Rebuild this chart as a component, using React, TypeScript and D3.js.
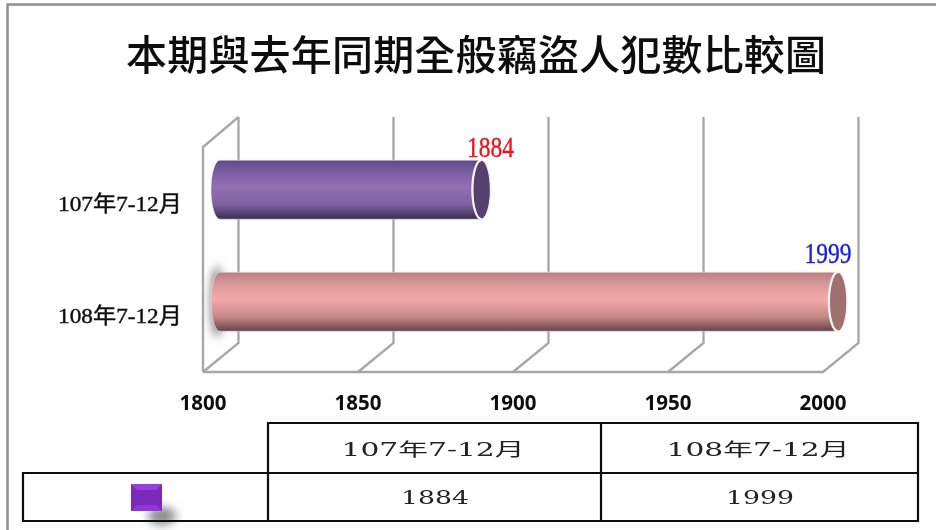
import React from "react";
import * as d3 from "d3";

const title = "本期與去年同期全般竊盜人犯數比較圖";
const categories = ["107年7-12月", "108年7-12月"];
const values = [1884, 1999];
const ticks = [1800, 1850, 1900, 1950, 2000];
const valueColors = ["#e8141c", "#1a1ae0"];
const valueLabelShift = [9, -10];
const valueLabelLift = [3, 9];
const barPalettes = [
  { stops: ["#5f4a86", "#7a5fa5", "#9270b5", "#7d62a0", "#3a2c52"], cap: "#54406f" },
  { stops: ["#b98080", "#dc9a9a", "#f5a9a9", "#c88a8a", "#664444"], cap: "#a07070" },
];

const x = d3.scaleLinear().domain([1800, 2000]).range([203, 823]);
const depthX = 35.5;
const depthY = 29;
const barDepth = 18;
const rowBand = d3.scaleBand().domain(categories).range([132, 359.4]).paddingInner(0.25).paddingOuter(0.14);
const gridColor = "#a6a6a6";
const serif = "'Liberation Serif', 'Noto Sans CJK TC', serif";
const tableFont = "'DejaVu Serif', 'Noto Sans CJK TC', serif";
const floorY = 372;
const backTop = 117;

export default function App() {
  return (
    <div style={{ position: "absolute", left: 0, top: 0, width: 936, height: 530 }}>
      <svg width={936} height={530} viewBox="0 0 936 530" style={{ display: "block", background: "#fff" }}>
        <defs>
          {barPalettes.map((p, i) => (
            <linearGradient key={i} id={`bar${i}`} x1="0" y1="0" x2="0" y2="1">
              {p.stops.map((c, j) => (
                <stop key={j} offset={[0, 0.22, 0.45, 0.75, 1][j]} stopColor={c} />
              ))}
            </linearGradient>
          ))}
          <filter id="blur" filterUnits="userSpaceOnUse" x="0" y="0" width="936" height="530">
            <feGaussianBlur stdDeviation="5" />
          </filter>
          <filter id="soft" filterUnits="userSpaceOnUse" x="0" y="0" width="936" height="530">
            <feGaussianBlur stdDeviation="0.4" />
          </filter>
        </defs>

        <g filter="url(#soft)">
          <path d="M7.5 530V4.5H936" fill="none" stroke="#8f8f8f" strokeWidth={2.5} />

          <text x={476} y={70} textAnchor="middle" fontFamily="'Noto Sans CJK TC', sans-serif" fontSize={41}
            textLength={700} lengthAdjust="spacing" fill="#111" fontWeight={500}>{title}</text>

          <g fill="none" stroke={gridColor} strokeWidth={2.3}>
            <path d={`M${x(1800)} ${floorY}H${x(2000)}L${x(2000) + depthX} ${floorY - depthY}V${backTop}`} />
            <path d={`M${x(1800)} ${floorY}V${backTop + 30}L${x(1800) + depthX} ${backTop}`} />
            {ticks.slice(0, -1).map((t) => (
              <path key={t} d={`M${x(t)} ${floorY}L${x(t) + depthX} ${floorY - depthY}V${backTop}`} />
            ))}
          </g>

          {categories.map((c, i) => {
            const y = rowBand(c)!;
            const h = 59;
            const x0 = x(1800) + barDepth - 1;
            const x1 = x(values[i]) + barDepth;
            const rx = 9;
            const ry = h / 2;
            const top = y + (rowBand.bandwidth() - h) / 2;
            const cy = top + ry;
            return (
              <g key={c}>
                {i === 1 && <ellipse cx={x0 - 3} cy={cy} rx={6} ry={ry + 6} fill="#777" filter="url(#blur)" />}
                <path
                  d={`M${x0} ${top}H${x1}A${rx} ${ry} 0 0 0 ${x1} ${top + h}H${x0}A${rx} ${ry} 0 0 1 ${x0} ${top}Z`}
                  fill={`url(#bar${i})`}
                  stroke="#efe8ef"
                  strokeOpacity={0.55}
                  strokeWidth={1}
                />
                <ellipse cx={x1} cy={cy} rx={rx} ry={ry} fill={barPalettes[i].cap} stroke="#f4eef4" strokeWidth={1.2} />
                <path d={`M${x1} ${top}A${rx} ${ry} 0 0 0 ${x1} ${top + h}`} fill="none" stroke="#f6f0f6" strokeWidth={2.2} />
                <text x={x1 + valueLabelShift[i]} y={top - valueLabelLift[i]} textAnchor="middle" fontFamily={serif} fontSize={30}
                  textLength={47} lengthAdjust="spacingAndGlyphs" fill={valueColors[i]} stroke={valueColors[i]} strokeWidth={0.4}>{values[i]}</text>
                <text x={182} y={cy + 21} textAnchor="end" fontFamily={serif} fontSize={22}
                  textLength={124} lengthAdjust="spacingAndGlyphs" fill="#111" stroke="#111" strokeWidth={0.45}>{c}</text>
              </g>
            );
          })}

          {ticks.map((t) => (
            <text key={t} x={x(t)} y={410} textAnchor="middle" fontFamily="'Open Sans', sans-serif"
              fontSize={20.5} fontWeight={700} fill="#111">{t}</text>
          ))}

          <ellipse cx={162} cy={516} rx={14} ry={9} fill="#8a8a8a" filter="url(#blur)" />
          <g stroke="#111" strokeWidth={2.2} fill="none">
            <path d="M268 473V423H918V521H23V473H918" />
            <path d="M268 473V521M601 423V521" />
          </g>
          {categories.map((c, i) => (
            <g key={c} fontFamily={tableFont} fill="#222" textAnchor="middle">
              <text x={[433, 758][i]} y={456} fontSize={18} textLength={183} lengthAdjust="spacingAndGlyphs">{c}</text>
              <text x={[435, 760][i]} y={504} fontSize={19} textLength={68} lengthAdjust="spacingAndGlyphs">{values[i]}</text>
            </g>
          ))}
          <rect x={131} y={484} width={31} height={27} fill="#7a2cb8" />
          <path d="M131 484H162L156 490H137Z" fill="#9a3ce0" />
          <path d="M131 511H162L156 505H137Z" fill="#9036d8" />
        </g>
      </svg>
    </div>
  );
}
